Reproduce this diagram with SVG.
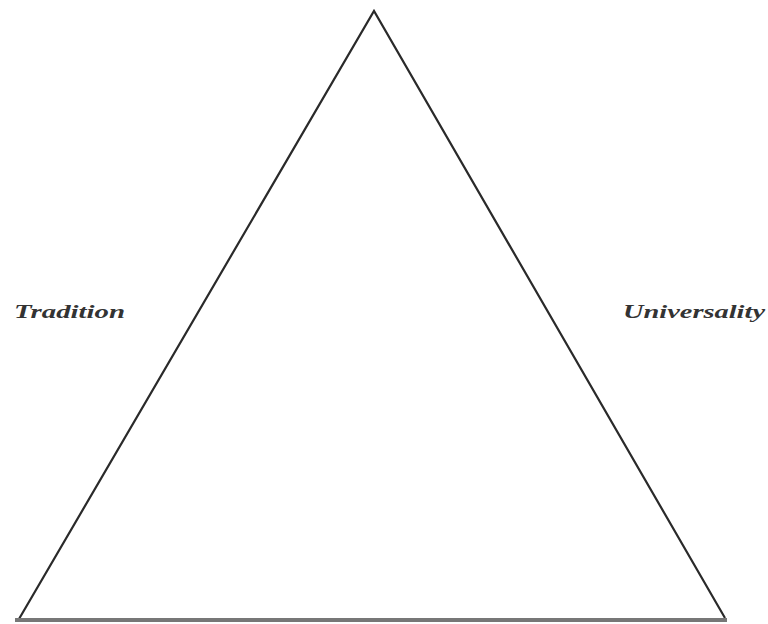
<svg xmlns="http://www.w3.org/2000/svg" width="768" height="624" viewBox="0 0 768 624">
<style>
.lbl{font-family:"Liberation Serif","Times New Roman",serif;font-style:italic;font-weight:bold;font-size:19px;fill:#333}
.edge{fill:none;stroke:#2a2a2a;stroke-width:2.2;stroke-linejoin:miter}
</style>
<rect width="768" height="624" fill="#fff"/>
<g id="connectors">
<polyline class="edge" points="19,619 374,11 725,618"/>
<line x1="15" y1="620" x2="727" y2="620" stroke="#777" stroke-width="4"/>
</g>
<g id="tradition"><text class="lbl" x="14" y="318" textLength="111" lengthAdjust="spacingAndGlyphs">Tradition</text></g>
<g id="universality"><text class="lbl" x="623" y="318" textLength="142" lengthAdjust="spacingAndGlyphs">Universality</text></g>
</svg>
